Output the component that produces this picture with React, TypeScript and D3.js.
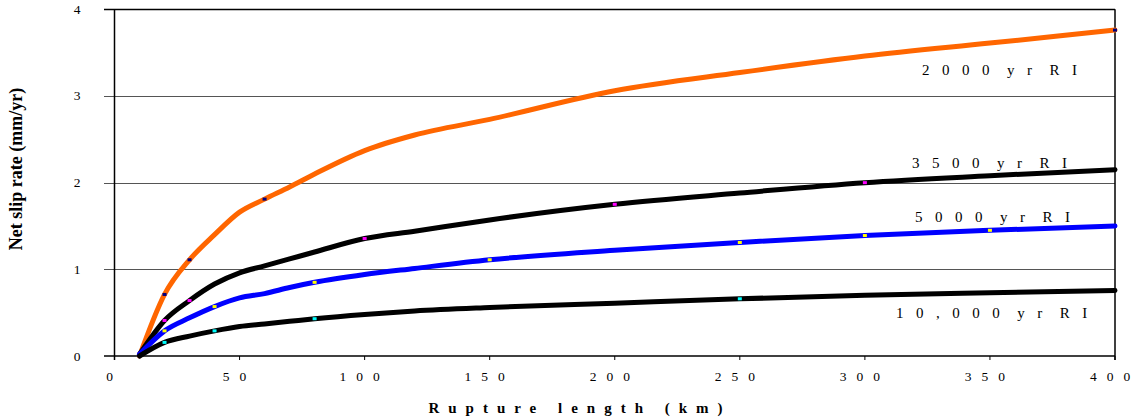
import React, {useRef, useEffect} from 'react';
import * as d3 from 'd3';

// rupture length (km)
const lengths = [10, 20, 30, 40, 50, 60, 70, 80, 100, 120, 150, 200, 250, 300, 350, 400];

// net slip rate (mm/yr) for each recurrence interval
const ri2000 = [0, 0.71, 1.11, 1.40, 1.66, 1.81, 1.95, 2.10, 2.37, 2.55, 2.73, 3.06, 3.27, 3.46, 3.61, 3.76];
const ri3500 = [0.02, 0.41, 0.64, 0.83, 0.96, 1.04, 1.12, 1.20, 1.355, 1.44, 1.57, 1.75, 1.88, 2.0, 2.08, 2.15];
const ri5000 = [0.02, 0.29, 0.44, 0.57, 0.67, 0.72, 0.79, 0.85, 0.94, 1.01, 1.11, 1.22, 1.31, 1.39, 1.45, 1.50];
const ri10000 = [0, 0.157, 0.23, 0.29, 0.34, 0.37, 0.40, 0.43, 0.48, 0.52, 0.56, 0.61, 0.66, 0.70, 0.73, 0.756];

// lengths where the little marker dots sit
const marks2000 = [20, 30, 60, 400];
const marks3500 = [10, 20, 30, 100, 200, 300];
const marks5000 = [20, 40, 80, 150, 250, 300, 350];
const marks10000 = [20, 40, 80, 250];

const xTicks = [0, 50, 100, 150, 200, 250, 300, 350, 400];
const yTicks = [0, 1, 2, 3, 4];

const seriesNames = ['2000 yr RI', '3500 yr RI', '5000 yr RI', '10,000 yr RI'];

export default function App() {
  const chart = useRef<SVGSVGElement>(null);

  useEffect(() => {
    draw();
  }, []);

  function draw() {
    const svg = d3.select(chart.current);
    svg.selectAll('*').remove();

    const x = d3.scaleLinear().domain([0, 400]).range([114.5, 1115]);
    const y = d3.scaleLinear().domain([0, 4]).range([356, 9.3]);

    const serif = '"Liberation Serif", "Times New Roman", serif';

    // 网格线 + 左侧刻度
    svg.append('g')
      .selectAll('line')
      .data(yTicks.slice(1))
      .enter()
      .append('line')
      .attr('x1', 104)
      .attr('x2', x(400))
      .attr('y1', d => Math.round(y(d)) + 0.5)
      .attr('y2', d => Math.round(y(d)) + 0.5)
      .attr('stroke', d => d === 4 ? '#000' : '#555')
      .attr('stroke-width', d => d === 4 ? 1.5 : 1);

    // 轴线
    svg.append('line')
      .attr('x1', 104).attr('x2', x(400))
      .attr('y1', y(0)).attr('y2', y(0))
      .attr('stroke', '#000').attr('stroke-width', 1.5);
    svg.append('line')
      .attr('x1', x(0)).attr('x2', x(0))
      .attr('y1', y(4)).attr('y2', y(0) + 4)
      .attr('stroke', '#000').attr('stroke-width', 1.5);
    svg.append('line')
      .attr('x1', x(400)).attr('x2', x(400))
      .attr('y1', y(4)).attr('y2', y(0) + 4)
      .attr('stroke', '#000').attr('stroke-width', 1.5);

    // x 刻度
    svg.append('g')
      .selectAll('line')
      .data(xTicks)
      .enter()
      .append('line')
      .attr('x1', d => x(d)).attr('x2', d => x(d))
      .attr('y1', y(0)).attr('y2', y(0) + 4)
      .attr('stroke', '#000').attr('stroke-width', 1);

    // 刻度值：字符之间留空
    svg.append('g')
      .selectAll('text')
      .data(xTicks)
      .enter()
      .append('text')
      .attr('x', d => x(d) - 5)
      .attr('y', 381)
      .attr('text-anchor', 'middle')
      .attr('font-family', serif)
      .attr('font-size', 13.5)
      .attr('fill', '#000')
      .each(function (d) {
        const t = d3.select(this);
        String(d).split('').forEach((c, i) => {
          t.append('tspan').attr('dx', i === 0 ? 0 : 10).text(c);
        });
      });

    svg.append('g')
      .selectAll('text')
      .data(yTicks)
      .enter()
      .append('text')
      .attr('x', 77)
      .attr('y', d => y(d) + 4.5)
      .attr('text-anchor', 'middle')
      .attr('font-family', serif)
      .attr('font-size', 13.5)
      .attr('fill', '#000')
      .text(d => String(d));

    // 轴标题
    svg.append('text')
      .attr('transform', 'translate(21.5,169) rotate(-90)')
      .attr('text-anchor', 'middle')
      .attr('font-family', serif)
      .attr('font-weight', 'bold')
      .attr('font-size', 18)
      .attr('fill', '#000')
      .text('Net slip rate (mm/yr)');

    svg.append('text')
      .attr('x', 580)
      .attr('y', 413)
      .attr('text-anchor', 'middle')
      .attr('font-family', serif)
      .attr('font-weight', 'bold')
      .attr('font-size', 15)
      .attr('letter-spacing', 9)
      .attr('fill', '#000')
      .text('Rupture length (km)');

    // 曲线
    const series = [
      {values: ri2000, color: '#ff6600', dot: '#000080', marks: marks2000},
      {values: ri3500, color: '#000000', dot: '#ff00ff', marks: marks3500},
      {values: ri5000, color: '#0000ff', dot: '#ffff00', marks: marks5000},
      {values: ri10000, color: '#000000', dot: '#00ffff', marks: marks10000},
    ];

    const line = d3.line<number>()
      .x((d, i) => x(lengths[i]))
      .y(d => y(d))
      .curve(d3.curveMonotoneX);

    series.forEach(s => {
      svg.append('path')
        .attr('d', line(s.values))
        .attr('fill', 'none')
        .attr('stroke', s.color)
        .attr('stroke-width', 5)
        .attr('stroke-linejoin', 'round')
        .attr('stroke-linecap', 'round');

      svg.append('g')
        .selectAll('rect')
        .data(s.marks)
        .enter()
        .append('rect')
        .attr('x', d => x(d) - 2)
        .attr('y', d => y(s.values[lengths.indexOf(d)]) - 1.5)
        .attr('width', 4)
        .attr('height', 3)
        .attr('fill', s.dot);
    });

    // 标签
    const labelPos = [
      {x: 922, y: 75},
      {x: 912, y: 168},
      {x: 915, y: 222},
      {x: 896, y: 318},
    ];
    seriesNames.forEach((name, i) => {
      const t = svg.append('text')
        .attr('x', labelPos[i].x)
        .attr('y', labelPos[i].y)
        .attr('font-family', serif)
        .attr('font-size', 15)
        .attr('letter-spacing', 12.5)
        .attr('fill', '#000');
      name.split(' ').forEach((part, j) => {
        t.append('tspan')
          .attr('dx', j === 0 ? 0 : 5)
          .text(part);
      });
    });
  }

  return (
    <svg ref={chart} width={1131} height={417}
         style={{position: 'absolute', left: 0, top: 0, background: '#fff'}}></svg>
  );
}
